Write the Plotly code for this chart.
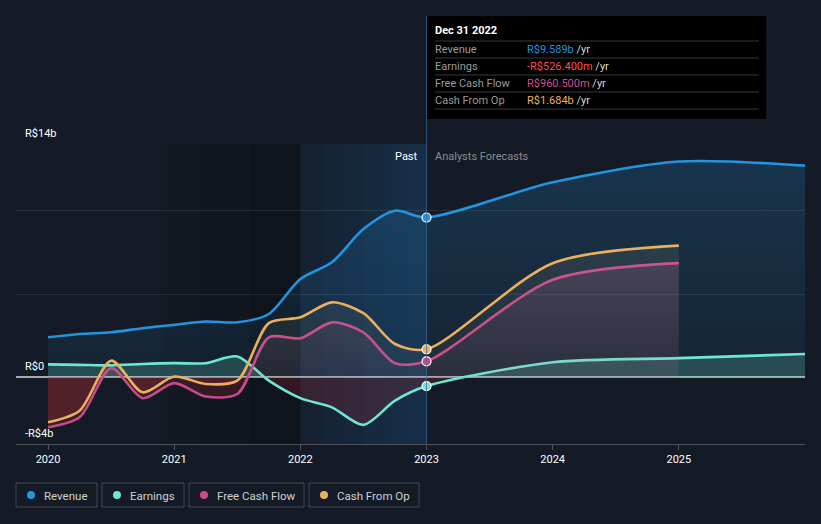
import plotly.graph_objects as go

# ---------------- data (R$ billions) ----------------
hist_x = [2020.0, 2020.25, 2020.5, 2020.75, 2021.0, 2021.25, 2021.5, 2021.75,
          2022.0, 2022.25, 2022.5, 2022.75, 2023.0]
rev_hist = [2.4, 2.6, 2.7, 2.95, 3.15, 3.35, 3.3, 3.8, 5.9, 6.9, 8.9, 10.0, 9.589]
earn_hist = [0.78, 0.75, 0.72, 0.8, 0.85, 0.85, 1.25, -0.2, -1.25, -1.8, -2.85, -1.4, -0.5264]
fcf_hist = [-3.0, -2.4, 0.55, -1.25, -0.35, -1.15, -1.0, 2.4, 2.35, 3.3, 2.7, 0.85, 0.9605]
cfo_hist = [-2.7, -2.0, 1.0, -0.9, 0.05, -0.4, -0.2, 3.25, 3.6, 4.5, 3.85, 2.0, 1.684]

fc_x_long = [2024.0, 2025.0, 2026.0]
fc_x_short = [2024.0, 2025.0]
rev_fc = [11.7, 12.95, 12.7]
earn_fc = [0.9, 1.15, 1.4]
fcf_fc = [5.85, 6.85]
cfo_fc = [6.85, 7.9]

series_names = ["Revenue", "Earnings", "Free Cash Flow", "Cash From Op"]
colors = ["#2394df", "#6ee7d3", "#c9498a", "#eab05e"]
# (fill colour just above zero, fill colour at top of axis)
pos_fills = [("rgba(35,148,223,0.07)", "rgba(35,148,223,0.22)"),
             ("rgba(110,231,211,0.20)", "rgba(110,231,211,0.20)"),
             ("rgba(200,90,150,0.06)", "rgba(200,90,150,0.30)"),
             ("rgba(200,190,140,0.05)", "rgba(200,190,140,0.16)")]
neg_fill = "rgba(175,40,50,0.22)"

tooltip_date = "Dec 31 2022"
tooltip_values = ["R$9.589b", "-R$526.400m", "R$960.500m", "R$1.684b"]
tooltip_colors = ["#2394df", "#ff4d4d", "#d0508f", "#eab05e"]

year_ticks = [2020, 2021, 2022, 2023, 2024, 2025]
y_grid = [-4, 0, 5, 10, 14]
y_labels = {14: "R$14b", 0: "R$0", -4: "-R$4b"}
Y_MIN, Y_MAX = -4, 14

# ---------------- figure ----------------
W, H = 821, 524
L, R, T, B = 16, 16, 144, 80
pw, ph = W - L - R, H - T - B


def px(x):
    return (x - L) / pw


def py(y):
    return (H - B - y) / ph


fig = go.Figure()

all_series = [
    (hist_x + fc_x_long, rev_hist + rev_fc),
    (hist_x + fc_x_long, earn_hist + earn_fc),
    (hist_x + fc_x_short, fcf_hist + fcf_fc),
    (hist_x + fc_x_short, cfo_hist + cfo_fc),
]

z = (0 - Y_MIN) / (Y_MAX - Y_MIN)
for (xs, ys), name, c, (f0, f1) in zip(all_series, series_names, colors, pos_fills):
    fig.add_trace(go.Scatter(
        x=xs, y=ys, name=name, mode="lines",
        line=dict(color=c, width=2.6, shape="spline", smoothing=0.8),
        fill="tozeroy",
        fillgradient=dict(type="vertical", start=Y_MIN, stop=Y_MAX,
                          colorscale=[[0, neg_fill], [z - 0.0005, neg_fill],
                                      [z + 0.0005, f0], [1, f1]]),
        hoverinfo="skip", showlegend=False))

# markers at the tooltip date
for (xs, ys), c in zip(all_series, colors):
    i = xs.index(2023.0)
    fig.add_trace(go.Scatter(
        x=[xs[i]], y=[ys[i]], mode="markers", showlegend=False, hoverinfo="skip",
        marker=dict(color=c, size=9, line=dict(color="white", width=1.2))))

shapes = []
# darker zone before past window
for x0, x1, a in [(2020.9, 2021.2, 0.08), (2021.2, 2021.6, 0.18), (2021.6, 2022.0, 0.27)]:
    shapes.append(dict(type="rect", xref="x", yref="paper", x0=x0, x1=x1, y0=0, y1=1,
                       fillcolor=f"rgba(0,0,0,{a})", line_width=0, layer="below"))
# past window gradient
steps = 6
for k in range(steps):
    x0 = 2022 + k / steps
    x1 = 2022 + (k + 1) / steps
    a = 0.09 + 0.15 * k / (steps - 1)
    shapes.append(dict(type="rect", xref="x", yref="paper", x0=x0, x1=x1, y0=0, y1=1,
                       fillcolor=f"rgba(30,110,180,{a:.3f})", line_width=0, layer="below"))
# vertical hover line
shapes.append(dict(type="line", xref="x", yref="paper", x0=2023, x1=2023, y0=0, y1=py(16),
                   line=dict(color="rgba(60,110,150,0.7)", width=1)))
# tooltip box
shapes.append(dict(type="rect", xref="paper", yref="paper", x0=px(427), x1=px(766),
                   y0=py(119), y1=py(16), fillcolor="#000000", line_width=0))
for yy in [41, 58, 75, 92, 109]:
    shapes.append(dict(type="line", xref="paper", yref="paper", x0=px(435), x1=px(759),
                       y0=py(yy), y1=py(yy), line=dict(color="rgba(255,255,255,0.22)", width=1)))

annotations = []
annotations.append(dict(xref="paper", yref="paper", x=px(433), y=py(31), text=f"<b>{tooltip_date}</b>",
                        showarrow=False, xanchor="left", yanchor="middle",
                        font=dict(color="white", size=11)))
for k, (nm, val, vc) in enumerate(zip(series_names, tooltip_values, tooltip_colors)):
    yy = 49.5 + 17 * k
    annotations.append(dict(xref="paper", yref="paper", x=px(433), y=py(yy), text=nm,
                            showarrow=False, xanchor="left", yanchor="middle",
                            font=dict(color="#9a9a9a", size=11)))
    annotations.append(dict(xref="paper", yref="paper", x=px(525), y=py(yy),
                            text=f"<span style='color:{vc}'>{val}</span> /yr",
                            showarrow=False, xanchor="left", yanchor="middle",
                            font=dict(color="#d8d8d8", size=11)))

# y labels
for v, t in y_labels.items():
    annotations.append(dict(xref="paper", yref="y", x=px(23), y=v, text=t, showarrow=False,
                            xanchor="left", yanchor="bottom", yshift=2,
                            font=dict(color="white", size=11)))

# past / forecast labels
annotations.append(dict(xref="x", yref="paper", x=2023, y=py(156), text="Past", showarrow=False,
                        xanchor="right", yanchor="middle", xshift=-7,
                        font=dict(color="white", size=11)))
annotations.append(dict(xref="x", yref="paper", x=2023, y=py(156), text="Analysts Forecasts",
                        showarrow=False, xanchor="left", yanchor="middle", xshift=6,
                        font=dict(color="#8c8c8c", size=11)))

# custom legend
leg_boxes = [(16, 97), (102, 184), (189, 304), (309, 419)]
for (x0, x1), nm, c in zip(leg_boxes, series_names, colors):
    shapes.append(dict(type="rect", xref="paper", yref="paper", x0=px(x0), x1=px(x1),
                       y0=py(507), y1=py(483), line=dict(color="rgba(255,255,255,0.2)", width=1),
                       fillcolor="rgba(0,0,0,0)"))
    shapes.append(dict(type="circle", xref="paper", yref="paper", x0=px(x0 + 11), x1=px(x0 + 19),
                       y0=py(499), y1=py(491), line_width=0, fillcolor=c))
    annotations.append(dict(xref="paper", yref="paper", x=px(x0 + 26), y=py(495.5), text=nm,
                            showarrow=False, xanchor="left", yanchor="middle",
                            font=dict(color="#d0d0d0", size=11.5)))

fig.update_layout(
    width=W, height=H,
    margin=dict(l=L, r=R, t=T, b=B),
    paper_bgcolor="#151b26", plot_bgcolor="#151b26",
    font=dict(family="Roboto", color="white"),
    showlegend=False,
    shapes=shapes, annotations=annotations,
    xaxis=dict(range=[2019.746, 2026.0], tickvals=year_ticks, ticktext=[str(y) for y in year_ticks],
               showgrid=False, zeroline=False, showline=True, linecolor="rgba(255,255,255,0.25)",
               ticks="outside", ticklen=5, tickcolor="rgba(255,255,255,0.25)",
               tickfont=dict(color="white", size=11)),
    yaxis=dict(range=[Y_MIN, Y_MAX], tickvals=y_grid, showticklabels=False,
               gridcolor="rgba(255,255,255,0.09)", zeroline=True,
               zerolinecolor="rgba(220,220,220,0.75)", zerolinewidth=1.5, fixedrange=True),
)

fig.write_html(
    "out.html",
    config={"displayModeBar": False},
    post_script="document.body.style.margin='0';document.body.style.background='#151b26';"
                "document.documentElement.style.overflow='hidden';",
)
